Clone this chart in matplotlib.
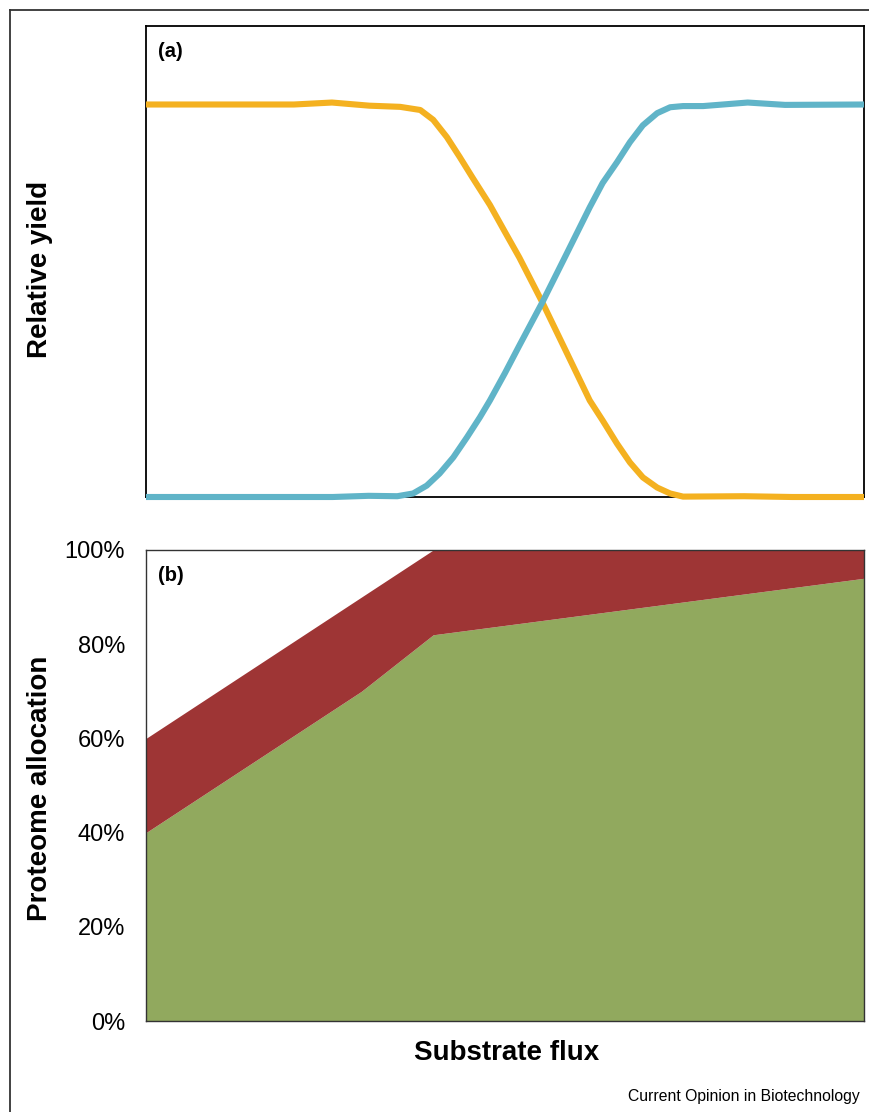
import matplotlib
matplotlib.use("Agg")
import matplotlib.pyplot as plt
from matplotlib.lines import Line2D

plt.rcParams['font.family'] = ['Liberation Sans', 'DejaVu Sans']

# ---- Panel (a): relative yield curves ----
flux_yellow = [0, 10, 20.6, 25.9, 31.1, 35.4, 38.2, 40.0, 41.9, 43.7, 45.5, 47.9, 50.0, 52.0,
               55.2, 58.4, 61.8, 63.6, 65.6, 67.4, 69.2, 71.2, 73.0, 74.8, 83.3, 90, 100]
yield_yellow = [1.0, 1.0, 1.0, 1.005, 0.997, 0.994, 0.986, 0.961, 0.917, 0.866, 0.813, 0.744, 0.675, 0.61,
                0.496, 0.375, 0.246, 0.195, 0.136, 0.088, 0.050, 0.024, 0.009, 0.001, 0.002, 0.0, 0.0]

flux_blue = [0, 10, 20, 26, 31, 35, 37.2, 39.1, 40.9, 42.8, 44.7, 46.5, 47.9, 50.0, 52.0, 55.2,
             58.4, 61.8, 63.6, 65.6, 67.4, 69.2, 71.2, 73.0, 74.8, 77.6, 83.8, 89, 100]
yield_blue = [0.0, 0.0, 0.0, 0.0, 0.003, 0.002, 0.009, 0.029, 0.060, 0.101, 0.152, 0.203, 0.246, 0.316,
              0.386, 0.496, 0.613, 0.738, 0.800, 0.853, 0.904, 0.947, 0.978, 0.993, 0.996, 0.996,
              1.005, 0.999, 1.0]

# ---- Panel (b): proteome allocation (percent) ----
flux_alloc = [0, 30, 40, 100]
green_top = [40, 70, 82, 94]
red_top = [60, 90, 100, 100]
alloc_ticks = [0, 20, 40, 60, 80, 100]
alloc_labels = ["0%", "20%", "40%", "60%", "80%", "100%"]

YELLOW = "#F4B120"
BLUE = "#60B4C8"
RED = "#9E3535"
GREEN = "#91A95E"

W, H = 870, 1112
fig = plt.figure(figsize=(W / 100, H / 100), dpi=100)

def fx(px):
    return px / W

def fy(py):
    return 1 - py / H

# panel a
ax1 = fig.add_axes([fx(146), fy(497), fx(864) - fx(146), fy(26) - fy(497)])
ax1.plot(flux_yellow, yield_yellow, color=YELLOW, lw=4.4, solid_capstyle='butt',
         solid_joinstyle='round', clip_on=False, zorder=3)
ax1.plot(flux_blue, yield_blue, color=BLUE, lw=4.4, solid_capstyle='butt',
         solid_joinstyle='round', clip_on=False, zorder=3)
ax1.set_xlim(0, 100)
ax1.set_ylim(0, 1.2)
ax1.set_xticks([])
ax1.set_yticks([])
for s in ax1.spines.values():
    s.set_linewidth(1.3)
    s.set_color("black")
ax1.text(0.017, 0.965, "(a)", transform=ax1.transAxes, fontsize=14.5, fontweight='bold',
         ha='left', va='top')

# panel b
ax2 = fig.add_axes([fx(146), fy(1021), fx(864) - fx(146), fy(550) - fy(1021)])
ax2.fill_between(flux_alloc, 0, green_top, color=GREEN, lw=0)
ax2.fill_between(flux_alloc, green_top, red_top, color=RED, lw=0)
ax2.set_xlim(0, 100)
ax2.set_ylim(0, 100)
ax2.set_xticks([])
ax2.set_yticks(alloc_ticks)
ax2.set_yticklabels(alloc_labels)
ax2.tick_params(axis='y', length=0, pad=15, labelsize=17)
for s in ax2.spines.values():
    s.set_linewidth(1.0)
    s.set_color("#333333")
ax2.text(0.017, 0.965, "(b)", transform=ax2.transAxes, fontsize=14.5, fontweight='bold',
         ha='left', va='top')

# axis titles
fig.text(fx(40), fy(269), "Relative yield", rotation=90, fontsize=20, fontweight='bold',
         ha='center', va='center')
fig.text(fx(40), fy(788), "Proteome allocation", rotation=90, fontsize=20, fontweight='bold',
         ha='center', va='center')
fig.text(fx(507), fy(1053), "Substrate flux", fontsize=20, fontweight='bold',
         ha='center', va='center')
fig.text(fx(860), fy(1097), "Current Opinion in Biotechnology", fontsize=11.3,
         ha='right', va='center')

# outer frame lines (left and top)
fig.add_artist(Line2D([fx(10), fx(10)], [fy(10), 0], color="#333333", lw=1.3))
fig.add_artist(Line2D([fx(10), 1], [fy(10), fy(10)], color="#333333", lw=1.3))

fig.savefig("out.png", dpi=100)
